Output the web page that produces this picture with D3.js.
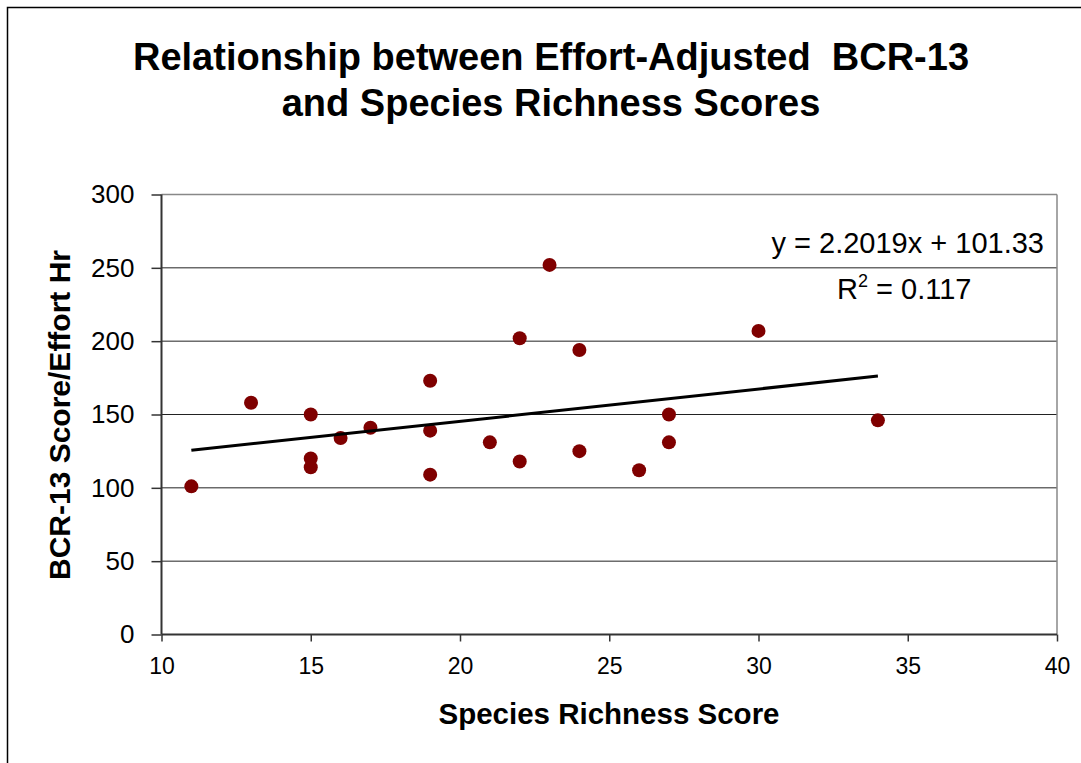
<!DOCTYPE html>
<html><head><meta charset="utf-8">
<script src="https://cdn.jsdelivr.net/npm/d3@7"></script>
<style>body{margin:0;background:#fff}svg{display:block}text{white-space:pre}</style>
</head><body>
<script>
const xValues = [11,13,15,15,15,16,17,19,19,19,21,22,22,23,24,24,26,27,27,30,34];
const yValues = [101,158,150,120,114,134,141,173,139,109,131,202,118,252,194,125,112,150,131,207,146];
const xTicks = [10,15,20,25,30,35,40];
const yTicks = [0,50,100,150,200,250,300];
const slope = 2.2019, intercept = 101.33;
const trendRange = [11,34];
const titleLines = ["Relationship between Effort-Adjusted  BCR-13","and Species Richness Scores"];

const W=1081,H=763;
const svg=d3.select("body").append("svg").attr("width",W).attr("height",H);
svg.append("rect").attr("x",7.5).attr("y",7.5).attr("width",W+20).attr("height",H+20).attr("fill","#fff").attr("stroke","#000").attr("stroke-width",1.5);

const L=161.5,R=1057,T=194.5,B=634.5;
const x=d3.scaleLinear().domain([10,40]).range([L,R]);
const y=d3.scaleLinear().domain([0,300]).range([B,T]);

// gridlines
svg.append("g").selectAll("line").data(yTicks.filter(d=>d>0&&d<300)).join("line")
 .attr("x1",L).attr("x2",R).attr("y1",d=>y(d)).attr("y2",d=>y(d)).attr("stroke","#222").attr("stroke-width",1);
// plot border top/right
svg.append("line").attr("x1",L).attr("x2",R).attr("y1",T).attr("y2",T).attr("stroke","#888").attr("stroke-width",1.5);
svg.append("line").attr("x1",R).attr("x2",R).attr("y1",T).attr("y2",B).attr("stroke","#888").attr("stroke-width",1.5);

const font="Liberation Sans, Arial, sans-serif";
const yAxis=svg.append("g").attr("transform",`translate(${L},0)`)
 .call(d3.axisLeft(y).tickValues(yTicks).tickSize(10).tickPadding(17).tickFormat(d3.format("d")));
const xAxis=svg.append("g").attr("transform",`translate(0,${B})`)
 .call(d3.axisBottom(x).tickValues(xTicks).tickSize(7).tickPadding(16).tickFormat(d3.format("d")));
[yAxis,xAxis].forEach(g=>{
  g.select(".domain").attr("stroke","#333").attr("stroke-width",2);
  g.selectAll(".tick line").attr("stroke","#333").attr("stroke-width",1.5);
  g.selectAll("text").attr("font-family",font).attr("fill","#000");
});
yAxis.selectAll("text").attr("font-size",26);
xAxis.selectAll("text").attr("font-size",23);
yAxis.select(".domain").attr("d",`M0,${T}V${B}`);
xAxis.select(".domain").attr("d",`M${L},0H${R}`);

// points
svg.append("g").selectAll("circle").data(xValues.map((v,i)=>[v,yValues[i]])).join("circle")
 .attr("cx",d=>x(d[0])).attr("cy",d=>y(d[1])).attr("r",7).attr("fill","#7f0000");

// trendline
svg.append("line").attr("x1",x(trendRange[0])).attr("y1",y(slope*trendRange[0]+intercept))
 .attr("x2",x(trendRange[1])).attr("y2",y(slope*trendRange[1]+intercept))
 .attr("stroke","#000").attr("stroke-width",3);

// title
svg.append("g").selectAll("text").data(titleLines).join("text")
 .attr("x",551).attr("y",(d,i)=>70+i*46).attr("text-anchor","middle")
 .attr("font-family",font).attr("font-weight","bold").attr("font-size",38).text(d=>d);

// axis titles
svg.append("text").attr("x",609).attr("y",724).attr("text-anchor","middle")
 .attr("font-family",font).attr("font-weight","bold").attr("font-size",29.5).text("Species Richness Score");
svg.append("text").attr("transform",`translate(70,415) rotate(-90)`).attr("text-anchor","middle")
 .attr("font-family",font).attr("font-weight","bold").attr("font-size",30).text("BCR-13 Score/Effort Hr");

// equation
svg.append("text").attr("x",1044).attr("y",253).attr("text-anchor","end")
 .attr("font-family",font).attr("font-size",29).text(`y = ${slope}x + ${intercept}`);
const r2=svg.append("text").attr("x",837).attr("y",299)
 .attr("font-family",font).attr("font-size",29);
r2.append("tspan").text("R");
r2.append("tspan").attr("dy",-12).attr("font-size",18).text("2");
r2.append("tspan").attr("dy",12).text(" = 0.117");
</script>
</body></html>
